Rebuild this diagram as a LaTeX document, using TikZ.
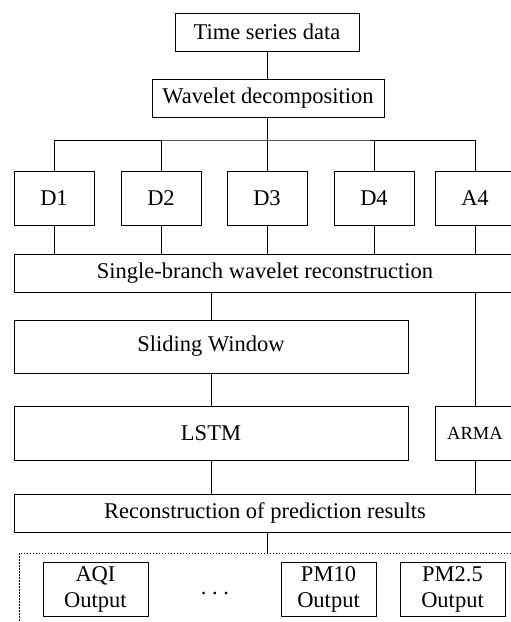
\documentclass[tikz,border=0pt]{standalone}
\usepackage{fontspec}
\setmainfont{Liberation Serif}
\begin{document}
\begin{tikzpicture}[x=1pt,y=-1pt,
  every node/.style={font=\fontsize{22.5}{26}\selectfont},
  box/.style={draw,line width=0.9pt,inner sep=0pt,align=center},
  conn/.style={line width=0.9pt}]
\useasboundingbox (0,0) rectangle (511,622);
\clip (0,0) rectangle (511,622);
\node[box,minimum width=184pt,minimum height=38pt] (ts) at (267,32) {Time series data};
\node[box,minimum width=232pt,minimum height=38pt] (wd) at (268,98) {Wavelet decomposition};
\foreach \n/\x in {D1/54,D2/161,D3/267,D4/374,A4/475}
  \node[box,minimum width=80pt,minimum height=54pt] (\n) at (\x,198) {\n};
\node[box,minimum width=502pt,minimum height=38pt] (sb) at (265,273) {Single-branch wavelet reconstruction};
\node[box,minimum width=394pt,minimum height=53pt] (sw) at (211,346.5) {Sliding Window};
\node[box,minimum width=394pt,minimum height=54pt] (lstm) at (211,433) {LSTM};
\node[box,minimum width=80pt,minimum height=54pt,font=\fontsize{18.5}{22}\selectfont] (arma) at (475,433) {ARMA};
\node[box,minimum width=502pt,minimum height=38pt] (rp) at (265,513) {Reconstruction of prediction results};
\node[draw,line width=0.9pt,dash pattern=on 1.6pt off 1.4pt,minimum width=510pt,minimum height=90pt,anchor=north west,inner sep=0pt] (ob) at (19,553) {};
\node[box,minimum width=105pt,minimum height=54pt] (aqi) at (95.5,589) {AQI\\Output};
\node[anchor=base,inner sep=0pt] (dots) at (215,594) {.\ .\ .};
\node[box,minimum width=95pt,minimum height=54pt] (pm10) at (328.5,589) {PM10\\Output};
\node[box,minimum width=105pt,minimum height=54pt] (pm25) at (452.5,589) {PM2.5\\Output};
\coordinate (bus) at (267,140);
\coordinate (tap) at (267,553);
\draw[conn] (ts.south) -- (ts.south |- wd.north);
\draw[conn] (D3.north |- wd.south) -- (D3.north);
\draw[conn] (D1.north) |- (bus) -| (A4.north);
\draw[conn] (D2.north) -- (D2.north |- bus);
\draw[conn] (D4.north) -- (D4.north |- bus);
\foreach \n in {D1,D2,D3,D4,A4}
  \draw[conn] (\n.south) -- (\n.south |- sb.north);
\draw[conn] (sw.north |- sb.south) -- (sw.north);
\draw[conn] (arma.north |- sb.south) -- (arma.north);
\draw[conn] (sw.south) -- (lstm.north);
\draw[conn] (lstm.south) -- (lstm.south |- rp.north);
\draw[conn] (arma.south) -- (arma.south |- rp.north);
\draw[conn] (tap |- rp.south) -- (tap);
\end{tikzpicture}
\end{document}
